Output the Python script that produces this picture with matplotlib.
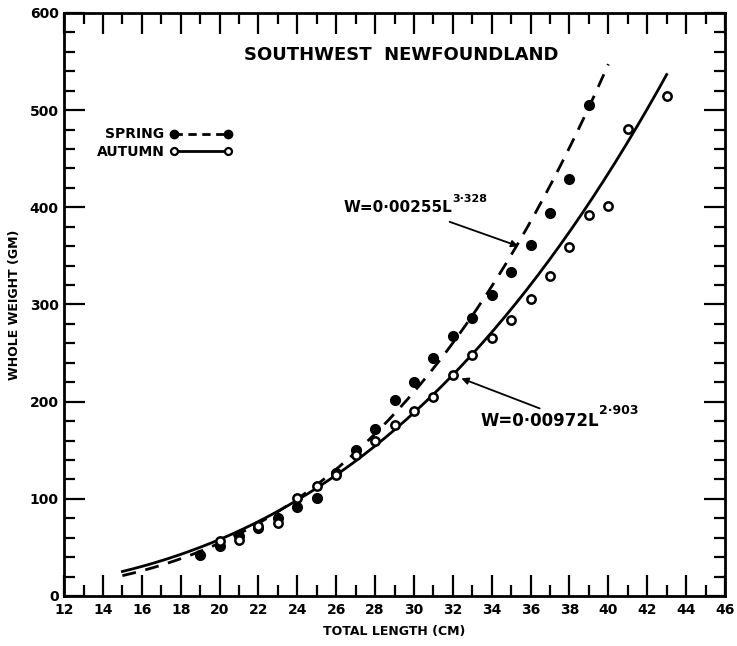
import numpy as np
import matplotlib
matplotlib.use("Agg")
import matplotlib.pyplot as plt
from matplotlib.lines import Line2D
from matplotlib.ticker import MultipleLocator

# mean weight at length
spring_len = [19, 20, 21, 22, 23, 24, 25, 26, 27, 28, 29, 30, 31, 32, 33, 34, 35, 36, 37, 38, 39]
spring_wt = [42, 51, 62, 70, 80, 92, 101, 127, 150, 172, 202, 220, 245, 268, 286, 310, 333, 361, 394, 429, 505]

autumn_len = [20, 21, 22, 23, 24, 25, 26, 27, 28, 29, 30, 31, 32, 33, 34, 35, 36, 37, 38, 39, 40, 41, 43]
autumn_wt = [57, 58, 72, 75, 101, 113, 125, 145, 160, 176, 190, 205, 227, 248, 265, 284, 306, 329, 359, 392, 401, 481, 514]

# fitted curves W = a * L^b as printed on the chart
spring_fit = (0.00255, 3.328)
autumn_fit = (0.00972, 2.903)
spring_range = (15, 40.0)
autumn_range = (15, 43.0)

FONT = ["Liberation Sans Narrow", "DejaVu Sans"]
plt.rcParams["font.family"] = FONT
plt.rcParams["font.weight"] = "bold"

fig = plt.figure(figsize=(7.37, 6.46), dpi=100)
ax = fig.add_axes([0.087, 0.0774, 0.8967, 0.9026])

L1 = np.linspace(*spring_range, 200)
L2 = np.linspace(*autumn_range, 200)
ax.plot(L1, spring_fit[0] * L1 ** spring_fit[1], color="black", lw=2, ls=(0, (5, 3.5)))
ax.plot(L2, autumn_fit[0] * L2 ** autumn_fit[1], color="black", lw=2)

ax.plot(spring_len, spring_wt, "o", color="black", ms=7, ls="none")
ax.plot(autumn_len, autumn_wt, "o", mfc="white", mec="black", mew=1.8, ms=6, ls="none")

ax.set_xlim(12, 46)
ax.set_ylim(0, 600)
ax.xaxis.set_major_locator(MultipleLocator(2))
ax.xaxis.set_minor_locator(MultipleLocator(1))
ax.yaxis.set_major_locator(MultipleLocator(100))
ax.yaxis.set_minor_locator(MultipleLocator(20))
ax.tick_params(which="both", direction="in", top=True, right=True, width=1.6, labelsize=10)
ax.tick_params(which="major", length=15)
ax.tick_params(which="minor", length=8)
ax.tick_params(axis="y", pad=4)
ax.tick_params(axis="x", pad=5)
for s in ax.spines.values():
    s.set_linewidth(2)

ax.set_xlabel("TOTAL LENGTH (CM)", fontsize=9, fontweight="bold", labelpad=6)
ax.set_ylabel("WHOLE WEIGHT (GM)", fontsize=9, fontweight="bold", labelpad=6)

ax.text(0.51, 0.928, "SOUTHWEST  NEWFOUNDLAND", transform=ax.transAxes,
        ha="center", va="center", fontsize=13, fontweight="bold")

handles = [
    Line2D([], [], color="black", lw=2, ls=(0, (3, 2)), marker="o", ms=6),
    Line2D([], [], color="black", lw=2, marker="o", mfc="white", mew=1.6, ms=5),
]
ax.legend(handles, ["SPRING", "AUTUMN"], numpoints=2, markerfirst=False, frameon=False,
          loc="upper left", bbox_to_anchor=(0.03, 0.825), handlelength=4.5,
          handletextpad=0.4, labelspacing=0.25, prop={"size": 10, "weight": "bold"})

t1 = ax.text(26.4, 400, "W=0·00255L", fontsize=11, fontweight="bold", va="center")
ax.annotate("3·328", xy=(1.0, 0.75), xycoords=t1, fontsize=8, fontweight="bold", va="bottom")
ax.annotate("", xy=(35.5, 359), xytext=(31.7, 386),
            arrowprops=dict(arrowstyle="-|>", color="black", lw=1.3, mutation_scale=10))

t2 = ax.text(33.4, 180, "W=0·00972L", fontsize=12, fontweight="bold", va="center")
ax.annotate("2·903", xy=(1.0, 0.75), xycoords=t2, fontsize=9, fontweight="bold", va="bottom")
ax.annotate("", xy=(32.3, 225), xytext=(36.6, 192),
            arrowprops=dict(arrowstyle="-|>", color="black", lw=1.3, mutation_scale=10))

fig.savefig("out.png", dpi=100)
